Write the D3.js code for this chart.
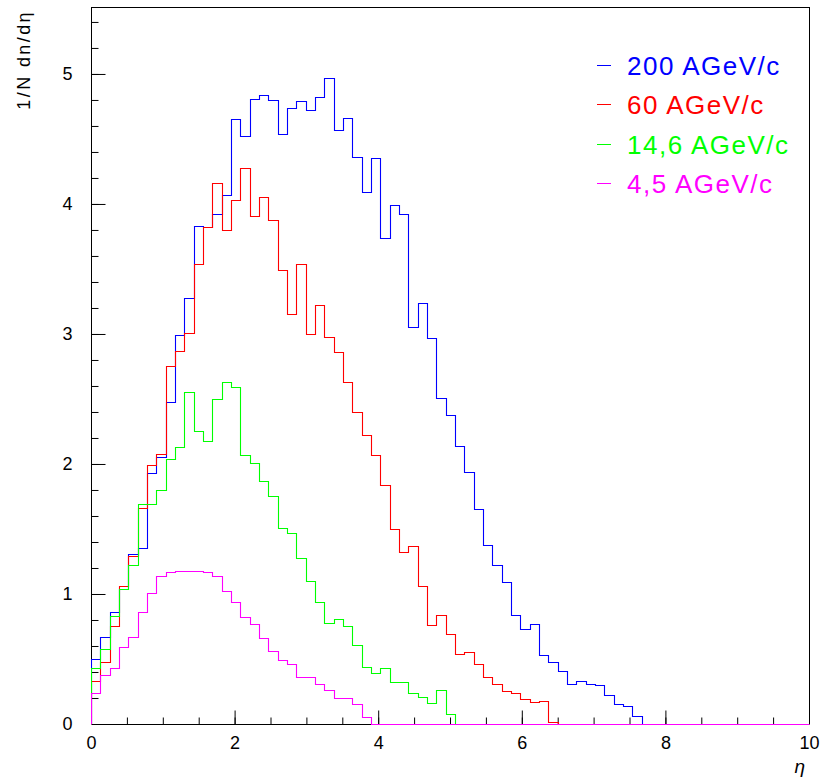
<!DOCTYPE html>
<html><head><meta charset="utf-8">
<script src="https://cdn.jsdelivr.net/npm/d3@7"></script>
<style>
body{margin:0;background:#fff}
text{font-family:"Liberation Sans",Arial,sans-serif}
</style>
</head><body><svg id="c" width="823" height="782"></svg>
<script>
// histogram bin width in eta
const binWidth = 0.13;
const seriesNames = ["200 AGeV/c", "60 AGeV/c", "14,6 AGeV/c", "4,5 AGeV/c"];
const seriesColors = ["#0000ff", "#ff0000", "#00ff00", "#ff00ff"];
const values200 = [0.50,0.67,0.86,1.04,1.31,1.35,1.93,2.05,2.48,2.99,3.28,3.83,3.82,3.92,4.07,4.65,4.52,4.81,4.84,4.80,4.54,4.74,4.79,4.72,4.82,4.97,4.57,4.66,4.36,4.09,4.35,3.74,3.99,3.92,3.05,3.24,2.97,2.51,2.38,2.14,1.94,1.65,1.38,1.22,1.09,0.84,0.73,0.77,0.53,0.48,0.41,0.31,0.33,0.31,0.30,0.22,0.15,0.14,0.06];
const values60 = [0.33,0.48,0.75,1.06,1.29,1.66,1.99,2.08,2.75,2.87,3.01,3.54,3.82,4.16,3.80,4.03,4.28,3.91,4.05,3.88,3.49,3.15,3.54,3.00,3.22,2.98,2.86,2.63,2.40,2.22,2.07,1.84,1.50,1.32,1.37,1.06,0.76,0.84,0.69,0.54,0.55,0.46,0.36,0.31,0.25,0.24,0.19,0.17,0.18,0.015];
const values14 = [0.43,0.58,0.83,1.04,1.22,1.69,1.69,1.80,2.04,2.13,2.55,2.25,2.18,2.50,2.63,2.59,2.07,2.01,1.87,1.75,1.51,1.47,1.28,1.10,0.94,0.78,0.81,0.75,0.61,0.44,0.39,0.43,0.32,0.32,0.24,0.21,0.16,0.26,0.08];
const values45 = [0.24,0.38,0.43,0.59,0.67,0.86,1.01,1.14,1.17,1.18,1.18,1.18,1.17,1.14,1.02,0.94,0.82,0.77,0.66,0.56,0.49,0.46,0.36,0.36,0.31,0.26,0.20,0.20,0.15,0.05];
const xTicks = [0,2,4,6,8,10];
const xMinorTicks = d3.range(0, 10.001, 0.5);
const yTicks = [0,1,2,3,4,5];
const yMinorTicks = d3.range(0, 5.45, 0.2);
const xDomain = [0, 10];
const yDomain = [0, 5.515];

const allSeries = [values200, values60, values14, values45];

const svg = d3.select("#c");
const L = 91, R = 809, T = 7, B = 724;
const x = d3.scaleLinear().domain(xDomain).range([L, R]);
const y = d3.scaleLinear().domain(yDomain).range([B, T]);

svg.append("clipPath").attr("id","clip").append("rect")
  .attr("x", L).attr("y", T - 1).attr("width", R - L + 1).attr("height", B - T + 2);

// frame
svg.append("rect").attr("x", L + 0.5).attr("y", T + 0.5).attr("width", R - L).attr("height", B - T)
  .attr("fill","none").attr("stroke","#000").attr("stroke-width",1);

// axes
const yAxisMajor = d3.axisLeft(y).tickValues(yTicks).tickSize(-14).tickSizeOuter(0).tickPadding(19).tickFormat(d3.format("d"));
const yAxisMinor = d3.axisLeft(y).tickValues(yMinorTicks).tickSize(-7).tickSizeOuter(0).tickFormat("");
const xAxisMajor = d3.axisBottom(x).tickValues(xTicks).tickSize(-14).tickSizeOuter(0).tickPadding(12).tickFormat(d3.format("d"));
const xAxisMinor = d3.axisBottom(x).tickValues(xMinorTicks).tickSize(-7).tickSizeOuter(0).tickFormat("");

function styleAxis(g){
  g.select(".domain").remove();
  g.selectAll("text").attr("font-size", 18).attr("fill","#000")
    .attr("font-family","'Liberation Sans',Arial,sans-serif");
  g.selectAll("line").attr("stroke","#000");
}
svg.append("g").attr("transform",`translate(${L+0.5},0)`).call(yAxisMinor).call(styleAxis);
svg.append("g").attr("transform",`translate(${L+0.5},0)`).call(yAxisMajor).call(styleAxis);
svg.append("g").attr("transform",`translate(0,${B+0.5})`).call(xAxisMinor).call(styleAxis);
svg.append("g").attr("transform",`translate(0,${B+0.5})`).call(xAxisMajor).call(styleAxis);

// histograms (drawn over the frame, as in the reference)
function stepPoints(vals){
  const pts = [[0,0]];
  vals.forEach((v,i) => { pts.push([i*binWidth, v], [(i+1)*binWidth, v]); });
  pts.push([vals.length*binWidth, 0], [xDomain[1], 0]);
  return pts;
}
const line = d3.line().x(d => Math.round(x(d[0])) + 0.5).y(d => Math.round(y(d[1])) + 0.5);
const gH = svg.append("g").attr("clip-path","url(#clip)");
allSeries.forEach((vals, k) => {
  gH.append("path").attr("d", line(stepPoints(vals)))
    .attr("fill","none").attr("stroke", seriesColors[k]).attr("stroke-width", 1.1);
});

// axis titles
svg.append("text").attr("transform","translate(30,10) rotate(-90)")
  .attr("text-anchor","end").attr("font-size",18).attr("letter-spacing",2.4)
  .text("1/N dn/d\u03b7");
svg.append("text").attr("x", 805).attr("y", 773).attr("text-anchor","end")
  .attr("font-size",19).attr("font-style","italic").text("\u03b7");

// legend
const leg = svg.append("g");
seriesNames.forEach((name, k) => {
  const cy = 65 + k*39.3;
  leg.append("line").attr("x1",597).attr("x2",611).attr("y1",Math.round(cy)+0.5).attr("y2",Math.round(cy)+0.5)
    .attr("stroke", seriesColors[k]).attr("stroke-width",1);
  leg.append("text").attr("x",627).attr("y",cy+10).attr("font-size",26).attr("letter-spacing",1.5)
    .attr("font-weight",300).attr("fill", seriesColors[k]).text(name);
});
</script>
</body></html>
